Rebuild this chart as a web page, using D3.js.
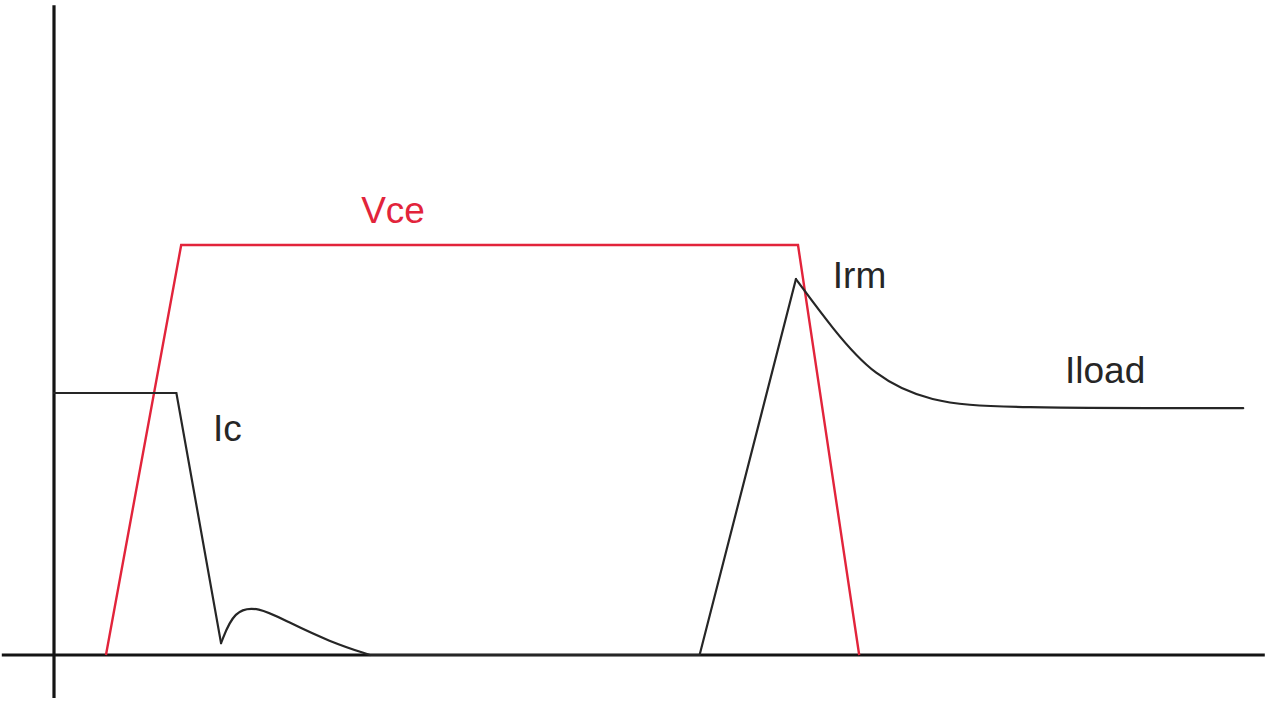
<!DOCTYPE html>
<html>
<head>
<meta charset="utf-8">
<script src="https://cdn.jsdelivr.net/npm/d3@7"></script>
<style>
  html, body { margin: 0; padding: 0; background: #ffffff; }
  svg { display: block; }
  text { font-family: "Liberation Sans", Arial, sans-serif; }
</style>
</head>
<body>
<svg id="chart" width="1280" height="719"></svg>
<script>
// ---- data (time units, amplitude units) ----
const vceT = [4.33, 10.6, 62.0, 67.1];
const vceV = [0, 100, 100, 0];

// Ic: turn-off (linear part)
const icOffT = [0, 10.2, 13.92];
const icOffV = [63.9, 63.9, 2.9];
// Ic: tail bump (smoothed)
const icTailT = [13.92, 15.0, 17.0, 19.4, 23.0, 26.33];
const icTailV = [2.9, 11.0, 11.8, 8.2, 3.2, 0];
// Ic: zero, then reverse-recovery rise
const icRiseT = [26.33, 53.8, 61.83];
const icRiseV = [0, 0, 91.7];
// Ic: decay to load current (smoothed)
const icDecayT = [61.83, 64.9, 68.3, 73.0, 79.0, 99.1];
const icDecayV = [91.7, 79.5, 68.0, 61.6, 60.2, 60.2];

// axis extents
const xAxisExtent = [-4.35, 100.9];
const yAxisExtent = [-10.5, 158.5];

// labels
const labelText = ["Vce", "Ic", "Irm", "Iload"];
const labelT = [25.6, 13.25, 64.9, 84.25];
const labelV = [105.4, 52.2, 89.5, 66.3];
const labelSeries = ["vce", "ic", "ic", "ic"];

// ---- drawing ----
const svg = d3.select("#chart");
const x = d3.scaleLinear().domain([0, 100]).range([54, 1254]);
const y = d3.scaleLinear().domain([0, 100]).range([655, 245]);

const colors = { vce: "#e2243b", ic: "#262626", axis: "#141414" };

// axes
svg.append("line")
  .attr("x1", x(0)).attr("x2", x(0))
  .attr("y1", y(yAxisExtent[1])).attr("y2", y(yAxisExtent[0]))
  .attr("stroke", colors.axis).attr("stroke-width", 3.2);
svg.append("line")
  .attr("x1", x(xAxisExtent[0])).attr("x2", x(xAxisExtent[1]))
  .attr("y1", y(0)).attr("y2", y(0))
  .attr("stroke", colors.axis).attr("stroke-width", 3.2);

const zip = (ts, vs) => ts.map((t, i) => [t, vs[i]]);
const lineLinear = d3.line().x(d => x(d[0])).y(d => y(d[1])).curve(d3.curveLinear);
const lineSmooth = d3.line().x(d => x(d[0])).y(d => y(d[1])).curve(d3.curveBasis);

// Vce
svg.append("path").datum(zip(vceT, vceV))
  .attr("d", lineLinear).attr("fill", "none")
  .attr("stroke", colors.vce).attr("stroke-width", 2.4).attr("stroke-linejoin", "miter");

// Ic pieces
[[icOffT, icOffV, lineLinear], [icTailT, icTailV, lineSmooth],
 [icRiseT, icRiseV, lineLinear], [icDecayT, icDecayV, lineSmooth]].forEach(([t, v, gen]) => {
  svg.append("path").datum(zip(t, v))
    .attr("d", gen).attr("fill", "none")
    .attr("stroke", colors.ic).attr("stroke-width", 2.2)
    .attr("stroke-linejoin", "miter").attr("stroke-linecap", "round");
});

// labels
labelText.forEach((s, i) => {
  svg.append("text")
    .attr("x", x(labelT[i])).attr("y", y(labelV[i]))
    .attr("font-size", 37)
    .attr("fill", labelSeries[i] === "vce" ? colors.vce : colors.ic)
    .text(s);
});
</script>
</body>
</html>
